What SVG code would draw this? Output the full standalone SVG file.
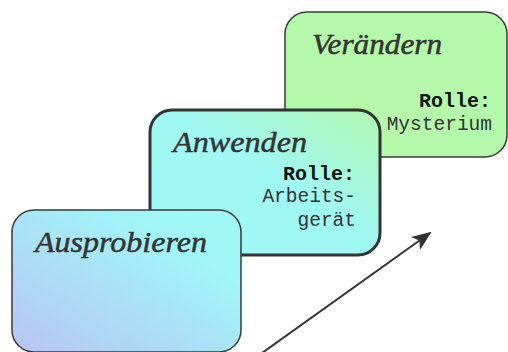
<svg xmlns="http://www.w3.org/2000/svg" width="508" height="352" viewBox="0 0 508 352">
  <defs>
    <linearGradient id="gAus" x1="0" y1="1" x2="1" y2="0">
      <stop offset="0" stop-color="#b8c4f4"/>
      <stop offset="0.75" stop-color="#a0f6f6"/>
      <stop offset="1" stop-color="#9ef8f6"/>
    </linearGradient>
    <linearGradient id="gAnw" x1="0" y1="1" x2="1" y2="0">
      <stop offset="0" stop-color="#a0f8f8"/>
      <stop offset="0.55" stop-color="#a0f8f2"/>
      <stop offset="1" stop-color="#b2f8ae"/>
    </linearGradient>
    <marker id="arr" viewBox="0 0 20 16" refX="18" refY="8" markerWidth="20" markerHeight="16" markerUnits="userSpaceOnUse" orient="auto">
      <path d="M0,0 L20,8 L0,16 L5,8 Z" fill="#333"/>
    </marker>
    <style>
      .title { font-family: "Liberation Serif", "Times New Roman", serif; font-style: italic; font-size: 30px; fill: #333; stroke: #333; stroke-width: 0.5px; }
      .role { font-family: "Liberation Mono", "Courier New", monospace; font-weight: bold; font-size: 20px; fill: #111; text-anchor: end; }
      .val { font-family: "Liberation Mono", "Courier New", monospace; font-size: 19.5px; fill: #333; text-anchor: end; }
    </style>
  </defs>
  <rect width="508" height="352" fill="#fff"/>
  <g id="veraendern">
    <rect x="285" y="12" width="222" height="145" rx="22" fill="#b3f9a9" stroke="#3a3a3a" stroke-width="1.5"/>
    <text class="title" x="312" y="54" textLength="130" lengthAdjust="spacingAndGlyphs">Verändern</text>
    <text class="role" x="491" y="107">Rolle:</text>
    <text class="val" x="492" y="130">Mysterium</text>
  </g>
  <g id="anwenden">
    <rect x="150" y="110" width="230" height="145" rx="22" fill="url(#gAnw)" stroke="#333" stroke-width="3"/>
    <text class="title" x="173" y="152" textLength="134" lengthAdjust="spacingAndGlyphs">Anwenden</text>
    <text class="role" x="355" y="180">Rolle:</text>
    <text class="val" x="356" y="202">Arbeits-</text>
    <text class="val" x="356" y="226">gerät</text>
  </g>
  <g id="ausprobieren">
    <rect x="12" y="210" width="229" height="142" rx="22" fill="url(#gAus)" stroke="#3a3a3a" stroke-width="1.5"/>
    <text class="title" x="35" y="252" textLength="172" lengthAdjust="spacingAndGlyphs">Ausprobieren</text>
  </g>
  <g id="connectors">
    <line x1="262" y1="353" x2="430" y2="233" stroke="#333" stroke-width="2" marker-end="url(#arr)"/>
  </g>
</svg>
